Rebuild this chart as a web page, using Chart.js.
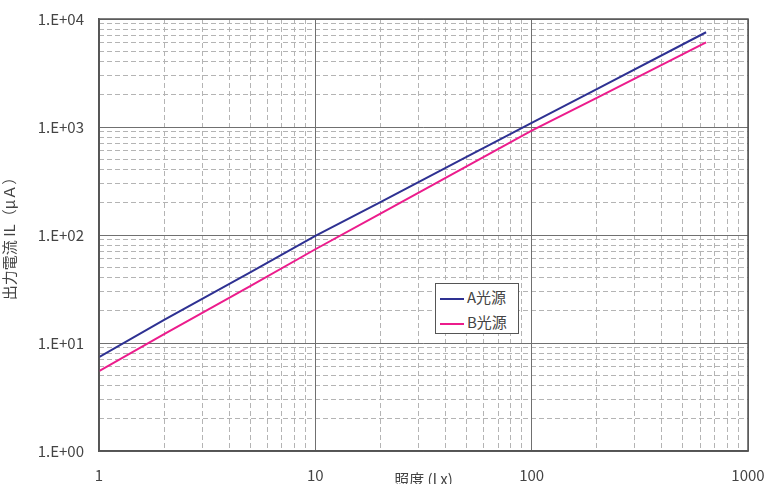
<!DOCTYPE html>
<html>
<head>
<meta charset="utf-8">
<script src="https://cdn.jsdelivr.net/npm/chart.js@4.4.1/dist/chart.umd.min.js"></script>
<style>
  html, body { margin: 0; padding: 0; background: #fff; }
  #wrap { position: relative; width: 765px; height: 484px; }
  #legend {
    position: absolute; left: 435px; top: 283px; width: 84px; height: 51px;
    border: 1px solid #555; background: #fff; box-sizing: border-box;
    font-family: "Noto Sans CJK JP", "DejaVu Sans", sans-serif; font-size: 15px; color: #444;
  }
  #legend .item { position: absolute; left: 4px; height: 20px; line-height: 20px; }
  #legend .swatch { display: inline-block; width: 24px; height: 0; vertical-align: middle; margin-right: 3px; }
</style>
</head>
<body>
<div id="wrap">
  <canvas id="chart" width="765" height="484"></canvas>
  <div id="legend"></div>
</div>
<script>
// Data
const lux = [1, 2, 5, 10, 20, 50, 100, 200, 640];
const currentA = [7.4, 16.4, 45, 98, 202, 528, 1090, 2240, 7540];
const currentB = [5.5, 12.1, 33.7, 73.8, 158, 432, 925, 1860, 6080];
const seriesLabels = ['A光源', 'B光源'];
const seriesColors = ['#2e3192', '#ec1c8c'];

const xTicks = [1, 10, 100, 1000];
const xTickLabels = ['1', '10', '100', '1000'];
const yTicks = [1, 10, 100, 1000, 10000];
const yTickLabels = ['1.E+00', '1.E+01', '1.E+02', '1.E+03', '1.E+04'];

function minorTicks(decades) {
    const out = [];
    for (let i = 0; i < decades.length - 1; i++) {
        for (let m = 2; m <= 9; m++) out.push({ value: decades[i] * m });
    }
    return out;
}

const font = { family: '"Noto Sans CJK JP", "DejaVu Sans", sans-serif', size: 15 };
const tickColor = '#444';

const ctx = document.getElementById('chart').getContext('2d');
const chart = new Chart(ctx, {
    type: 'line',
    data: {
        datasets: [currentA, currentB].map((vals, i) => ({
            label: seriesLabels[i],
            data: lux.map((x, j) => ({ x: x, y: vals[j] })),
            borderColor: seriesColors[i],
            backgroundColor: seriesColors[i],
            borderWidth: 2,
            pointRadius: 0,
            tension: 0,
            fill: false
        }))
    },
    options: {
        responsive: false,
        animation: false,
        layout: { padding: { top: 19, right: 17, left: 0, bottom: 0 } },
        plugins: {
            legend: { display: false },
            tooltip: { enabled: false }
        },
        scales: {
            xMinor: {
                type: 'logarithmic',
                position: 'bottom',
                min: 1,
                max: 1000,
                afterBuildTicks: s => { s.ticks = minorTicks(xTicks); },
                afterFit: s => { s.height = 0; s.paddingLeft = 0; s.paddingRight = 0; },
                ticks: { display: false },
                grid: { color: '#b4b4b4', lineWidth: 1, drawTicks: false },
                border: { display: false, dash: [5, 3] }
            },
            yMinor: {
                type: 'logarithmic',
                position: 'left',
                min: 1,
                max: 10000,
                afterBuildTicks: s => { s.ticks = minorTicks(yTicks); },
                afterFit: s => { s.width = 0; s.paddingTop = 0; s.paddingBottom = 0; },
                ticks: { display: false },
                grid: { color: '#b4b4b4', lineWidth: 1, drawTicks: false },
                border: { display: false, dash: [5, 3] }
            },
            x: {
                type: 'logarithmic',
                position: 'bottom',
                min: 1,
                max: 1000,
                afterBuildTicks: s => { s.ticks = xTicks.map(v => ({ value: v })); },
                afterFit: s => { s.height = 33; s.paddingLeft = 0; s.paddingRight = 0; },
                ticks: {
                    font: font,
                    color: tickColor,
                    padding: 15,
                    maxRotation: 0,
                    callback: (v) => xTickLabels[xTicks.indexOf(v)]
                },
                grid: { color: '#707070', lineWidth: 1, drawTicks: false },
                border: { color: '#555', width: 1.5 },
                title: {
                    display: true,
                    text: '照度 (l x)',
                    font: font,
                    color: tickColor,
                    padding: { top: 0, bottom: -4 }
                }
            },
            y: {
                type: 'logarithmic',
                position: 'left',
                min: 1,
                max: 10000,
                afterBuildTicks: s => { s.ticks = yTicks.map(v => ({ value: v })); },
                afterFit: s => { s.width = 99; s.paddingTop = 0; s.paddingBottom = 0; },
                ticks: {
                    font: font,
                    color: tickColor,
                    padding: 15,
                    callback: (v) => yTickLabels[yTicks.indexOf(v)]
                },
                grid: { color: '#707070', lineWidth: 1, drawTicks: false },
                border: { color: '#555', width: 1.5 },
                title: {
                    display: true,
                    text: '出力電流 IL（μＡ）',
                    font: font,
                    color: tickColor,
                    padding: { top: 0, bottom: 0 }
                }
            }
        }
    },
    plugins: [{
        // frame around the plot area (top and right edges)
        id: 'frame',
        afterDraw(c) {
            const a = c.chartArea;
            c.ctx.save();
            c.ctx.strokeStyle = '#555';
            c.ctx.lineWidth = 1.5;
            c.ctx.strokeRect(a.left, a.top, a.right - a.left, a.bottom - a.top);
            c.ctx.restore();
        }
    }]
});

// HTML legend built from the datasets
const legendEl = document.getElementById('legend');
chart.data.datasets.forEach((ds, i) => {
    const item = document.createElement('div');
    item.className = 'item';
    item.style.top = (3 + i * 25) + 'px';
    item.innerHTML = '<span class="swatch" style="border-top:2px solid ' + ds.borderColor + '"></span>' + ds.label;
    legendEl.appendChild(item);
});
</script>
</body>
</html>
